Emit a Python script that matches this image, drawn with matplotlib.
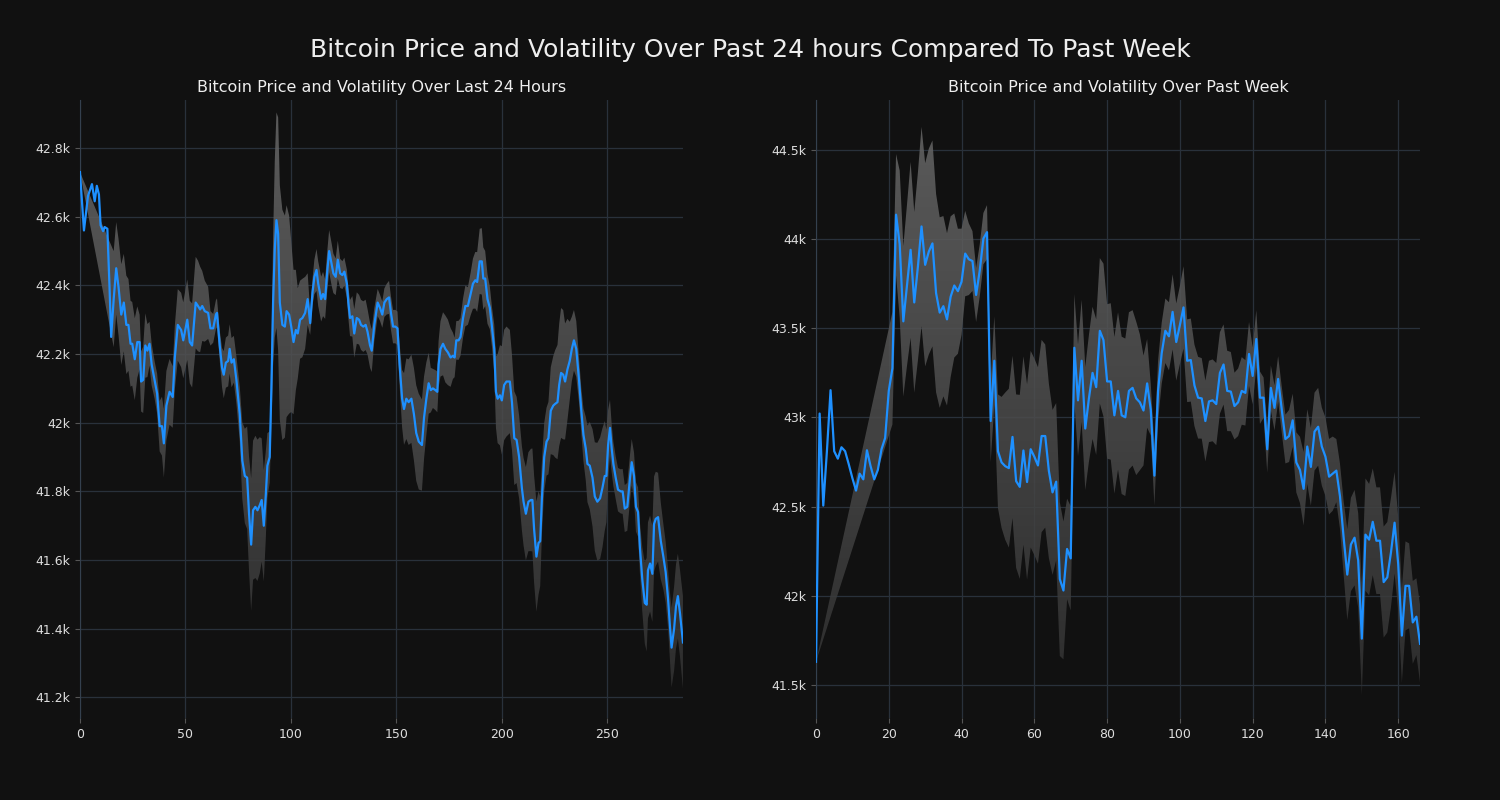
import numpy as np
import pandas as pd
import matplotlib
matplotlib.use('Agg')
import matplotlib.pyplot as plt
from matplotlib.colors import LinearSegmentedColormap
from matplotlib.ticker import FuncFormatter, MultipleLocator

# last 24 hours, 5 minute steps (positions)
x_24h = [0.0, 1.9, 3.8, 5.7, 7.0, 8.0, 9.0, 9.8, 11.0, 11.7,
         13.0, 14.0, 14.8, 16.0, 17.2, 18.3, 19.6, 20.8, 22.0, 23.0,
         24.0, 24.8, 26.0, 27.2, 28.3, 29.0, 30.0, 31.0, 32.0, 33.0,
         34.0, 35.4, 36.6, 37.8, 38.9, 39.8, 41.0, 42.5, 44.0, 45.0,
         46.4, 48.0, 49.0, 50.9, 52.1, 53.2, 54.9, 56.0, 57.0, 58.0,
         59.2, 60.8, 61.9, 63.2, 64.5, 65.0, 66.3, 67.4, 68.2, 69.2,
         70.3, 71.0, 71.9, 73.0, 74.2, 75.8, 77.0, 78.2, 79.3, 80.2,
         81.2, 82.1, 83.2, 84.2, 85.3, 86.2, 87.2, 88.1, 88.9, 90.0,
         90.8, 91.6, 92.4, 93.2, 94.0, 94.8, 96.0, 97.2, 98.0, 99.2,
         100.2, 101.3, 102.4, 103.3, 104.4, 105.5, 106.8, 108.0, 109.2, 110.3,
         111.2, 112.2, 113.0, 114.4, 115.3, 116.3, 117.2, 118.2, 119.4, 120.2,
         121.3, 122.3, 123.4, 124.5, 125.4, 126.6, 127.3, 128.1, 129.2, 130.1,
         131.3, 132.4, 133.3, 134.4, 135.5, 136.4, 137.6, 138.4, 139.6, 141.2,
         142.3, 143.4, 144.4, 145.5, 146.6, 147.5, 148.5, 149.6, 150.6, 151.6,
         152.8, 153.7, 154.8, 155.9, 157.2, 158.4, 159.5, 160.7, 162.2, 163.2,
         164.3, 165.4, 166.4, 167.4, 168.6, 169.5, 170.1, 171.0, 172.2, 173.3,
         174.5, 175.8, 176.9, 177.7, 178.5, 179.6, 180.5, 181.7, 182.8, 184.0,
         185.3, 186.4, 187.5, 188.4, 189.6, 190.6, 191.3, 192.2, 193.3, 194.4,
         195.4, 196.5, 197.3, 198.1, 199.2, 200.1, 201.2, 202.3, 203.9, 204.9,
         206.0, 207.1, 208.3, 209.6, 210.4, 211.5, 212.7, 213.9, 214.6, 215.4,
         216.5, 217.5, 218.3, 219.1, 220.2, 221.3, 222.2, 223.3, 224.5, 225.4,
         226.5, 227.3, 228.2, 229.2, 230.1, 231.2, 232.3, 233.3, 234.3, 235.4,
         236.7, 237.8, 238.8, 239.9, 240.7, 241.8, 243.1, 244.2, 245.4, 246.7,
         247.8, 248.9, 249.7, 250.5, 251.4, 252.2, 253.0, 254.1, 255.2, 256.5,
         257.4, 258.4, 259.6, 260.9, 261.7, 262.8, 263.7, 264.7, 265.6, 266.7,
         267.9, 268.8, 269.4, 270.4, 271.5, 272.3, 273.1, 274.2, 275.5, 276.7,
         277.8, 278.9, 279.8, 280.6, 281.8, 282.7, 283.6, 284.6, 286.0]
price_24h = [42730, 42560, 42660, 42695, 42645, 42690, 42665, 42575, 42558, 42570,
             42565, 42400, 42250, 42360, 42450, 42395, 42315, 42350, 42285, 42285,
             42230, 42230, 42185, 42235, 42235, 42120, 42125, 42225, 42210, 42230,
             42170, 42125, 42085, 41990, 41990, 41940, 42050, 42090, 42075, 42190,
             42285, 42270, 42240, 42300, 42235, 42225, 42350, 42340, 42330, 42340,
             42325, 42320, 42275, 42275, 42315, 42320, 42225, 42160, 42140, 42175,
             42180, 42215, 42175, 42185, 42125, 42025, 41890, 41845, 41840, 41735,
             41645, 41745, 41755, 41745, 41760, 41775, 41700, 41785, 41875, 41900,
             42100, 42350, 42505, 42590, 42550, 42350, 42285, 42280, 42325, 42315,
             42280, 42235, 42270, 42260, 42300, 42305, 42320, 42360, 42290, 42380,
             42425, 42445, 42405, 42360, 42375, 42360, 42435, 42500, 42460, 42435,
             42425, 42475, 42435, 42430, 42440, 42405, 42350, 42305, 42310, 42260,
             42305, 42300, 42285, 42280, 42285, 42265, 42225, 42210, 42285, 42350,
             42335, 42315, 42350, 42360, 42365, 42320, 42280, 42280, 42275, 42170,
             42070, 42040, 42070, 42060, 42070, 42025, 41970, 41945, 41935, 42015,
             42070, 42115, 42095, 42100, 42095, 42090, 42170, 42215, 42230, 42215,
             42205, 42190, 42195, 42190, 42240, 42240, 42250, 42305, 42340, 42340,
             42375, 42405, 42415, 42410, 42470, 42470, 42420, 42420, 42360, 42335,
             42280, 42215, 42090, 42070, 42080, 42065, 42110, 42120, 42120, 42060,
             41955, 41950, 41900, 41810, 41770, 41735, 41770, 41775, 41775, 41690,
             41610, 41650, 41655, 41780, 41900, 41945, 41955, 42035, 42050, 42055,
             42060, 42110, 42145, 42140, 42120, 42155, 42180, 42215, 42240, 42215,
             42125, 42035, 41965, 41925, 41880, 41875, 41840, 41785, 41770, 41780,
             41810, 41845, 41845, 41935, 41985, 41925, 41880, 41840, 41805, 41800,
             41800, 41750, 41755, 41840, 41885, 41845, 41755, 41740, 41635, 41545,
             41475, 41470, 41570, 41590, 41560, 41705, 41720, 41725, 41655, 41610,
             41565, 41490, 41410, 41345, 41400, 41465, 41495, 41445, 41360]

# past week, hourly
x_week = list(range(167))
price_week = [41630, 43022, 42506, 42811, 43153, 42811, 42769, 42833, 42811, 42738,
              42660, 42590, 42685, 42653, 42816, 42727, 42653, 42706, 42822, 42885,
              43149, 43276, 44137, 43972, 43539, 43740, 43940, 43645, 43845, 44071,
              43856, 43930, 43976, 43697, 43588, 43624, 43550, 43677, 43740, 43708,
              43761, 43919, 43887, 43877, 43687, 43824, 44003, 44039, 42980, 43318,
              42811, 42748, 42727, 42716, 42891, 42643, 42611, 42815, 42638, 42822,
              42780, 42731, 42896, 42896, 42700, 42580, 42640, 42094, 42030, 42263,
              42210, 43391, 43096, 43318, 42938, 43107, 43250, 43170, 43486, 43434,
              43202, 43202, 43012, 43149, 43012, 43001, 43149, 43166, 43107, 43085,
              43039, 43191, 43043, 42674, 43149, 43360, 43486, 43455, 43592, 43423,
              43518, 43617, 43318, 43322, 43180, 43111, 43107, 42980, 43090, 43096,
              43075, 43250, 43297, 43149, 43145, 43064, 43085, 43149, 43138, 43356,
              43233, 43440, 43111, 43111, 42822, 43166, 43054, 43216, 43043, 42879,
              42896, 42984, 42748, 42706, 42600, 42837, 42723, 42921, 42948, 42837,
              42780, 42668, 42685, 42702, 42558, 42326, 42119, 42288, 42326, 42199,
              41760, 42343, 42315, 42415, 42309, 42309, 42077, 42104, 42242, 42410,
              42178, 41777, 42056, 42056, 41851, 41883, 41731]

BG = '#111111'
band_cmap = LinearSegmentedColormap.from_list('band', ['#303030', '#6a6a6a'])
grad = np.linspace(0, 1, 256).reshape(-1, 1)


def k_fmt(v, pos):
    return f'{v / 1000:g}k'


def draw_panel(ax, x, price, window, step, ylim, title):
    s = pd.Series(price, dtype=float)
    vol = s.rolling(window).std()
    vol.iloc[0] = 0.0
    ok = vol.notna().to_numpy()
    xs = np.asarray(x, dtype=float)[ok]
    up = (s + vol)[ok].to_numpy()
    lo = (s - vol)[ok].to_numpy()

    poly = ax.fill(np.r_[xs, xs[::-1]], np.r_[up, lo[::-1]],
                   facecolor='none', edgecolor='none')[0]
    ax.plot(x, price, color='#1e90ff', lw=1.6, zorder=3)
    ax.margins(x=0)
    ax.autoscale_view()
    x0, x1 = ax.get_xlim()
    y0, y1 = ylim

    # grey volatility band, lighter towards the top
    im = ax.imshow(grad, extent=[x0, x1, y0, y1], origin='lower', aspect='auto',
                   cmap=band_cmap, alpha=0.85, zorder=2)
    im.set_clip_path(poly)
    ax.set_xlim(x0, x1)
    ax.set_ylim(y0, y1)

    ax.set_facecolor(BG)
    ax.grid(color='#29313b', lw=0.9)
    ax.set_axisbelow(True)
    for side in ['top', 'right', 'bottom']:
        ax.spines[side].set_visible(False)
    ax.spines['left'].set_color('#34404e')
    ax.yaxis.set_major_locator(MultipleLocator(step))
    ax.yaxis.set_major_formatter(FuncFormatter(k_fmt))
    ax.tick_params(colors='#555555', labelcolor='#dddddd', labelsize=9)
    ax.set_title(title, color='#eeeeee', fontsize=11.5, pad=6)


fig = plt.figure(figsize=(15, 8), dpi=100, facecolor=BG)
ax1 = fig.add_axes([0.0533, 0.1025, 0.402, 0.7725])
ax2 = fig.add_axes([0.544, 0.1025, 0.4027, 0.7725])

draw_panel(ax1, x_24h, price_24h, 14, 200, (41140, 42940),
           'Bitcoin Price and Volatility Over Last 24 Hours')
draw_panel(ax2, x_week, price_week, 22, 500, (41315, 44780),
           'Bitcoin Price and Volatility Over Past Week')

fig.suptitle('Bitcoin Price and Volatility Over Past 24 hours Compared To Past Week',
             fontsize=18, color='#eeeeee', y=0.9375, va='center')

fig.savefig('out.png', dpi=100, facecolor=BG)
